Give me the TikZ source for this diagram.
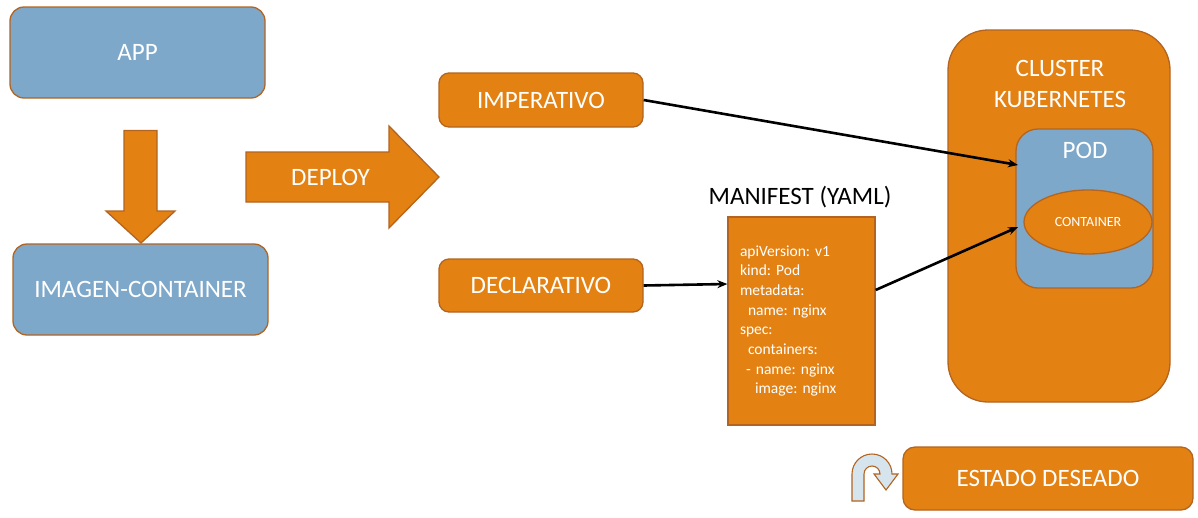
\documentclass[tikz,border=0pt]{standalone}
\usepackage{fontspec}
\setmainfont{Carlito}
\usetikzlibrary{arrows.meta,shapes.geometric}
\frenchspacing

\definecolor{boxorange}{RGB}{227,130,19}
\definecolor{boxline}{RGB}{178,100,32}
\definecolor{boxblue}{RGB}{126,168,202}
\definecolor{turnblue}{RGB}{214,228,238}

\begin{document}
\begin{tikzpicture}[x=1pt,y=-1pt,
	bigtext/.style={font=\fontsize{25}{31}\selectfont},
	bluebox/.style={bigtext,draw=boxline,fill=boxblue,line width=1.3pt,rounded corners=14pt,text=white,inner sep=0pt},
	orangebox/.style={bigtext,draw=boxline,fill=boxorange,line width=1.3pt,rounded corners=10pt,text=white,inner sep=0pt},
	blockarrow/.style={draw=boxline,fill=boxorange,line width=1.3pt},
	link/.style={-{Stealth[length=10pt,width=8pt]},line width=2.6pt,black}]

	\useasboundingbox (0,0) rectangle (1198,517);

	% left column
	\node[bluebox,minimum width=255pt,minimum height=91pt] at (137.5,52.5) (app) {APP};
	\node[bluebox,minimum width=255pt,minimum height=91pt] at (140.5,289.5) (imagen) {IMAGEN-CONTAINER};
	\draw[blockarrow] (124,130.5) -- (157,130.5) -- (157,211) -- (175,211) -- (141,243)
		-- (106,211) -- (124,211) -- cycle;

	% deploy
	\draw[blockarrow] (246,152) -- (389,152) -- (389,126) -- (439,177) -- (389,228)
		-- (389,202) -- (246,202) -- cycle;
	\node[bigtext,text=white] at (330.5,177) (deploy) {DEPLOY};

	\node[orangebox,minimum width=204pt,minimum height=54pt] at (541,100) (imperativo) {IMPERATIVO};
	\node[orangebox,minimum width=204pt,minimum height=53pt] at (541,285.5) (declarativo) {DECLARATIVO};

	% manifest
	\node[bigtext,text=black] at (800,197) (manifestlabel) {MANIFEST (YAML)};
	\node[draw=boxline,fill=boxorange,line width=1.3pt,text=white,minimum width=147pt,minimum height=208pt,
		text width=123pt,inner xsep=12pt,inner ysep=0pt,align=left,font=\fontsize{15.5}{19.7}\selectfont]
		at (801.5,321) (manifest) {apiVersion: v1\\
		kind: Pod\\
		metadata:\\
		\hspace*{8pt}name: nginx\\
		spec:\\
		\hspace*{8pt}containers:\\
		\hspace*{6pt}- name: nginx\\
		\hspace*{15pt}image: nginx};

	% cluster
	\node[orangebox,rounded corners=40pt,minimum width=222pt,minimum height=372pt] at (1059,216) (cluster) {};
	\node[bigtext,text=white,align=center] at (1060,84) (clusterlabel) {CLUSTER\\KUBERNETES};
	\node[bluebox,rounded corners=22pt,minimum width=137pt,minimum height=159pt] at (1084.5,208.5) (pod) {};
	\node[bigtext,text=white] at (1085,150) (podlabel) {POD};
	\node[ellipse,draw=boxline,fill=boxorange,line width=1.3pt,text=white,inner sep=0pt,
		minimum width=128pt,minimum height=64pt,font=\fontsize{14}{16}\selectfont] at (1088,222) (container) {CONTAINER};

	\coordinate (podtop) at (1018,165);
	\coordinate (podlow) at (1018,227);
	\draw[link] (imperativo.east) -- (podtop);
	\draw[link] (declarativo.east) -- ([yshift=1.5pt]manifest.west |- declarativo.east);
	\draw[link] ([yshift=31pt]manifest.east) -- (podlow);

	% estado
	\node[orangebox,rounded corners=12pt,minimum width=290pt,minimum height=63pt] at (1048,478.5) (estado) {ESTADO DESEADO};
	\draw[draw=boxline,fill=turnblue,line width=1.1pt] (852,501) -- (852,474)
		arc[start angle=180,end angle=0,radius=20pt] -- (898,474) -- (886,490) -- (874,474) -- (880,474)
		arc[start angle=0,end angle=180,radius=8pt] -- (864,501) -- cycle;
\end{tikzpicture}
\end{document}
